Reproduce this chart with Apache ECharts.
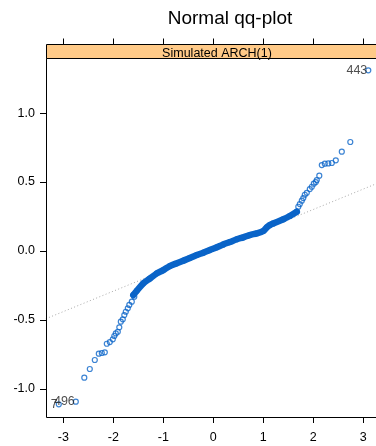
<!DOCTYPE html>
<html>
<head>
<meta charset="utf-8">
<script src="https://cdn.jsdelivr.net/npm/echarts@6/dist/echarts.min.js"></script>
<style>html,body{margin:0;padding:0;background:#fff}#c{width:376px;height:446px}</style>
</head>
<body>
<div id="c"></div>
<script>
// theoretical normal quantiles (x) and sorted sample values (y)
const lowTailX = [-3.09, -2.75, -2.58, -2.47, -2.37, -2.29, -2.23, -2.17, -2.13, -2.07, -2.01, -1.98, -1.95, -1.91, -1.88, -1.85, -1.81, -1.78, -1.75, -1.71, -1.68, -1.63, -1.58];
const lowTailY = [-1.111, -1.092, -0.918, -0.855, -0.79, -0.744, -0.739, -0.734, -0.672, -0.66, -0.64, -0.616, -0.597, -0.585, -0.553, -0.512, -0.495, -0.464, -0.44, -0.415, -0.391, -0.367, -0.331];
const midX = [-1.6, -1.53, -1.4, -1.27, -1.13, -1.0, -0.87, -0.73, -0.6, -0.47, -0.33, -0.2, -0.07, 0.07, 0.2, 0.33, 0.47, 0.6, 0.73, 0.87, 1.0, 1.07, 1.13, 1.2, 1.4, 1.53, 1.67];
const midY = [-0.319, -0.288, -0.234, -0.2, -0.162, -0.138, -0.109, -0.089, -0.07, -0.051, -0.029, -0.012, 0.007, 0.027, 0.048, 0.065, 0.085, 0.099, 0.116, 0.128, 0.145, 0.172, 0.188, 0.2, 0.23, 0.254, 0.285];
const highTailX = [1.70, 1.73, 1.77, 1.80, 1.83, 1.87, 1.93, 1.97, 2.01, 2.05, 2.07, 2.12, 2.17, 2.23, 2.30, 2.37, 2.45, 2.57, 2.74, 3.10];
const highTailY = [0.321, 0.34, 0.365, 0.384, 0.408, 0.422, 0.449, 0.466, 0.488, 0.50, 0.514, 0.546, 0.623, 0.633, 0.635, 0.638, 0.657, 0.72, 0.79, 1.31];
// labelled observations
const idLabels = ['7', '496', '443'];
const idX = [-3.09, -2.75, 3.10];
const idY = [-1.111, -1.092, 1.31];
// reference line through quartiles (end points)
const refX = [-3.35, 3.35];
const refY = [-0.491, 0.501];
// ticks
const xTicks = [-3, -2, -1, 0, 1, 2, 3];
const yTicks = [-1.0, -0.5, 0.0, 0.5, 1.0];
const yTickLabels = ['-1.0', '-0.5', '0.0', '0.5', '1.0'];
const titleText = 'Normal qq-plot';
const stripText = 'Simulated ARCH(1)';

const FONT = '"Liberation Sans", Arial, Helvetica, sans-serif';
const BLUE = '#0a64c8';
const pts = [];
[[lowTailX, lowTailY], [midX, midY], [highTailX, highTailY]].forEach(([xs, ys]) => xs.forEach((x, i) => pts.push([x, ys[i]])));
const band = midX.map((x, i) => [x, midY[i]]);
const ids = idX.map((x, i) => ({ value: [x, idY[i]], label: idLabels[i] }));

// panel extends past the right edge of the window; visible x range is [-3.346, 3.254]
const X_MIN = -3.346, X_MAX_VISIBLE = 3.254;
const chart = echarts.init(document.getElementById('c'), null, { renderer: 'canvas' });
const GL = 46, GT = 58, GH = 359;
const PW = 334.6; // full panel width (partly off-canvas)
const tickStyle = { show: true, length: 6, inside: false, lineStyle: { color: '#000', width: 1 } };
chart.setOption({
  animation: false,
  backgroundColor: '#fff',
  grid: { left: GL, top: GT, right: 0, height: GH, show: false },
  xAxis: [{
    type: 'value', min: X_MIN, max: X_MAX_VISIBLE, position: 'bottom',
    splitLine: { show: false }, axisLine: { show: false, onZero: false },
    axisTick: Object.assign({ customValues: xTicks }, tickStyle),
    axisLabel: { show: true, margin: 14, color: '#000', fontSize: 12.5, fontFamily: FONT, customValues: xTicks, formatter: v => String(v) }
  }, {
    type: 'value', min: X_MIN, max: X_MAX_VISIBLE, position: 'top', offset: 13.5,
    splitLine: { show: false }, axisLine: { show: false, onZero: false },
    axisTick: Object.assign({ customValues: xTicks }, tickStyle),
    axisLabel: { show: false }
  }],
  yAxis: [{
    type: 'value', min: -1.203, max: 1.399, position: 'left',
    splitLine: { show: false }, axisLine: { show: false, onZero: false },
    axisTick: Object.assign({ customValues: yTicks }, tickStyle),
    axisLabel: { show: true, margin: 11, color: '#000', fontSize: 12.5, fontFamily: FONT, customValues: yTicks,
      formatter: v => { const i = yTicks.findIndex(t => Math.abs(t - v) < 1e-9); return i >= 0 ? yTickLabels[i] : ''; } }
  }],
  graphic: [
    { type: 'rect', shape: { x: GL + 0.5, y: GT + 0.5, width: PW, height: GH }, style: { fill: 'none', stroke: '#000', lineWidth: 1 }, z: 10, silent: true },
    { type: 'rect', shape: { x: GL + 0.5, y: 44.5, width: PW, height: 14 }, style: { fill: '#ffca88', stroke: '#000', lineWidth: 1 }, z: 10, silent: true },
    { type: 'text', x: 217, y: 53.5, style: { text: stripText, fill: '#000', font: '12.5px ' + FONT, textAlign: 'center', textVerticalAlign: 'middle' }, z: 11 },
    { type: 'text', x: 230, y: 19, style: { text: titleText, fill: '#000', font: '19px ' + FONT, textAlign: 'center', textVerticalAlign: 'middle' }, z: 11 }
  ],
  series: [
    { type: 'line', data: refX.map((x, i) => [x, refY[i]]), symbol: 'none', lineStyle: { color: '#a8a8a8', width: 1, type: [1, 2.4] }, z: 1, silent: true },
    { type: 'line', data: band, symbol: 'none', smooth: 0.3, lineStyle: { color: BLUE, width: 6.5, cap: 'round' }, z: 2, silent: true },
    { type: 'scatter', data: pts, symbol: 'circle', symbolSize: 5, itemStyle: { color: 'rgba(0,0,0,0)', borderColor: BLUE, borderWidth: 1.2 }, z: 3, silent: true },
    { type: 'scatter', data: ids.map(d => ({ value: d.value, label: { formatter: d.label } })), symbol: 'circle', symbolSize: 5,
      itemStyle: { color: 'rgba(0,0,0,0)', borderColor: 'rgba(0,0,0,0)', borderWidth: 0 },
      label: { show: true, position: 'left', distance: -1.5, color: '#222', fontSize: 12.5, fontFamily: FONT }, z: 4, silent: true }
  ]
});
</script>
</body>
</html>
